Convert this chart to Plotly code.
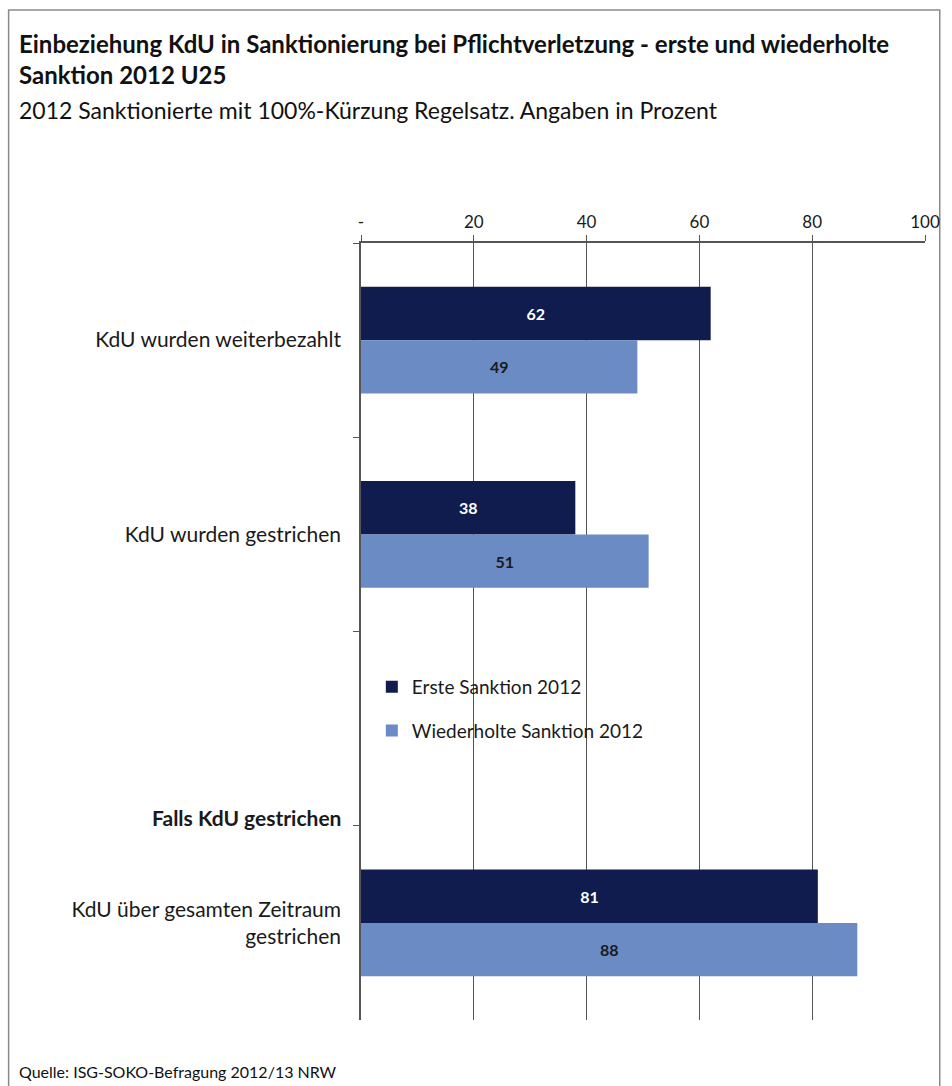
import plotly.graph_objects as go

categories = ["KdU wurden weiterbezahlt", "KdU wurden gestrichen", " ",
              "KdU über gesamten Zeitraum<br>gestrichen"]
erste = [62, 38, None, 81]
wiederholte = [49, 51, None, 88]
series_names = ["Erste Sanktion 2012", "Wiederholte Sanktion 2012"]
tick_vals = [0, 20, 40, 60, 80, 100]
tick_text = ["-", "20", "40", "60", "80", "100"]
section_label = "Falls KdU gestrichen"

W, H = 952, 1086
ML, MR, MT, MB = 361, 18, 243, 66
PW, PH = W - ML - MR, H - MT - MB

def px(x):
    return (x - ML) / PW

def py(y):
    return 1 - (y - MT) / PH

FONT = "Lato"
dark = "#111c4e"
light = "#6a8bc4"

fig = go.Figure()
fig.add_trace(go.Bar(
    y=categories, x=erste, orientation="h", name=series_names[0],
    legendgroup="a",
    marker=dict(color=dark, line=dict(width=0)),
    text=[str(v) if v is not None else "" for v in erste],
    textposition="inside", insidetextanchor="middle",
    textfont=dict(color="white", size=16, family=FONT, weight="bold"),
))
fig.add_trace(go.Bar(
    y=categories, x=wiederholte, orientation="h", name=series_names[1],
    legendgroup="b",
    marker=dict(color=light, line=dict(width=0)),
    text=[str(v) if v is not None else "" for v in wiederholte],
    textposition="inside", insidetextanchor="middle",
    textfont=dict(color="#1a1a1a", size=16, family=FONT, weight="bold"),
))

fig.update_layout(
    width=W, height=H,
    margin=dict(l=ML, r=MR, t=MT, b=MB),
    paper_bgcolor="white", plot_bgcolor="white",
    barmode="group", bargap=0.45, bargroupgap=0.0,
    font=dict(family=FONT, size=19, color="#1a1a1a"),
    showlegend=True,
    legend=dict(x=px(372), y=py(668), xanchor="left", yanchor="top",
                bgcolor="rgba(0,0,0,0)", font=dict(size=19, family=FONT),
                traceorder="grouped", itemsizing="constant", tracegroupgap=16,
                itemwidth=30),
    xaxis=dict(side="top", range=[0, 100], tickvals=tick_vals, ticktext=tick_text,
               showgrid=True, gridcolor="#555555", gridwidth=1,
               showline=True, linecolor="#555555", linewidth=1.5,
               ticks="outside", ticklen=6, tickcolor="#555555",
               tickfont=dict(size=17, family=FONT, color="#1a1a1a"),
               zeroline=False, fixedrange=True),
    yaxis=dict(autorange="reversed", showline=True, linecolor="#555555", linewidth=1.5,
               ticks="outside", tickson="boundaries", ticklen=6, tickcolor="#555555",
               tickfont=dict(size=21, family=FONT, color="#1a1a1a"),
               ticklabelstandoff=14, showgrid=False),
)

fig.add_annotation(x=0, y=2.5, xref="paper", yref="y", text=section_label,
                   showarrow=False, xanchor="right", yanchor="bottom", xshift=-18,
                   yshift=-6,
                   font=dict(size=21, family=FONT, color="#1a1a1a", weight="bold"))

fig.add_annotation(x=px(12), y=py(27), xref="paper", yref="paper", xanchor="left",
                   yanchor="top", align="left", showarrow=False,
                   text="<b>Einbeziehung KdU in Sanktionierung bei Pflichtverletzung - erste und wiederholte<br>Sanktion 2012 U25</b>",
                   font=dict(size=24, family=FONT, color="#111111"))
fig.add_annotation(x=px(12), y=py(94), xref="paper", yref="paper", xanchor="left",
                   yanchor="top", align="left", showarrow=False,
                   text="2012 Sanktionierte mit 100%-Kürzung Regelsatz. Angaben in Prozent",
                   font=dict(size=23, family=FONT, color="#111111"))
fig.add_annotation(x=px(12), y=py(1060), xref="paper", yref="paper", xanchor="left",
                   yanchor="top", align="left", showarrow=False,
                   text="Quelle: ISG-SOKO-Befragung 2012/13 NRW",
                   font=dict(size=16, family=FONT, color="#111111"))

fig.add_shape(type="rect", xref="paper", yref="paper",
              x0=px(3), x1=px(949), y0=py(1090), y1=py(10),
              line=dict(color="#8a8a8a", width=1.5), fillcolor="rgba(0,0,0,0)",
              layer="below")

fig.write_html("out.html")
